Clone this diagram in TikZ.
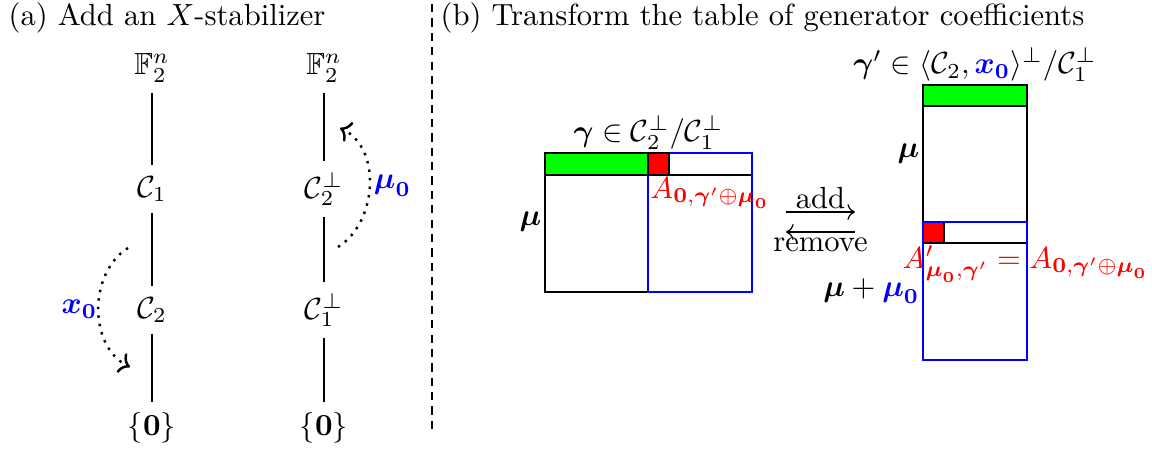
\documentclass[tikz,border=0pt]{standalone}
\usepackage{amsmath,amssymb}
\usetikzlibrary{arrows.meta,positioning}
\definecolor{rowgreen}{HTML}{00FF00}
\definecolor{hitred}{HTML}{FF0000}
\definecolor{shiftblue}{HTML}{0000FF}
\newcommand{\xo}{\boldsymbol{x}_{\mathbf{0}}}
\newcommand{\muo}{\boldsymbol{\mu}_{\mathbf{0}}}
\newcommand{\gam}{\boldsymbol{\gamma}}

\begin{document}
\begin{tikzpicture}[x=0.327pt, y=-0.327pt,
  move/.style={->, dotted, thick},
  tab/.style={draw=black, line width=0.4pt},
  sel/.style={draw=shiftblue, line width=0.9pt},
  side/.style={inner sep=1pt}]
  \useasboundingbox (0,0) rectangle (1152,450);

  % titles and separator
  \node[anchor=base west, inner sep=0pt] (ta) at (8,25) {(a) Add an $X$-stabilizer};
  \node[anchor=base west, inner sep=0pt] (tb) at (440,25) {(b) Transform the table of generator coefficients};
  \coordinate (sepa) at (432,4);
  \coordinate (sepb) at (432,432);
  \draw[dash pattern=on 2.7pt off 2pt] (sepa) -- (sepb);

  % (a) the two chains
  \node (fa) at (152,68) {$\mathbb{F}_2^n$};
  \node (ca1) at (152,189) {$\mathcal{C}_1$};
  \node (ca2) at (152,310) {$\mathcal{C}_2$};
  \node (za) at (152,428) {$\{\mathbf{0}\}$};
  \draw (fa) -- (ca1) -- (ca2) -- (za);

  \node (fb) at (324,68) {$\mathbb{F}_2^n$};
  \node (cb2) at (324,189) {$\mathcal{C}_2^\perp$};
  \node (cb1) at (324,310) {$\mathcal{C}_1^\perp$};
  \node (zb) at (324,428) {$\{\mathbf{0}\}$};
  \draw (fb) -- (cb2) -- (cb1) -- (zb);

  \coordinate (xs) at (128,248);
  \coordinate (xe) at (130,367);
  \draw[move] (xs) to[out=212, in=154] node[midway, left, inner sep=0pt, text=shiftblue] (xl) {$\xo$} (xe);
  \coordinate (ms) at (338,247);
  \coordinate (me) at (340,128);
  \draw[move] (ms) to[out=32, in=-25] node[midway, right, inner sep=1pt, text=shiftblue] (ml) {$\muo$} (me);

  % (b) left table
  \draw[tab] (545,153) rectangle (752,292);
  \draw[tab] (545,175) -- (752,175);
  \draw[sel] (648,153) rectangle (752,292);
  \draw[tab, fill=rowgreen] (545,153) rectangle (648,175);
  \draw[tab, fill=hitred] (648,153) rectangle (669,175);
  \node[above, side] (gl) at (648.5,153) {$\gam\in\mathcal{C}_2^\perp/\mathcal{C}_1^\perp$};
  \node[left, side] (mul) at (545,222) {$\boldsymbol{\mu}$};
  \node[anchor=north west, inner sep=0.6pt, text=hitred] (al) at (648,175) {$A_{\mathbf{0},\gam'\oplus\muo}$};

  % add / remove
  \coordinate (pa) at (786,212);
  \coordinate (pb) at (855,212);
  \draw[->] (pa) -- node[above, inner sep=0.7pt] (addl) {add} (pb);
  \coordinate (qa) at (855,232);
  \coordinate (qb) at (786,232);
  \draw[->] (qa) -- node[below, inner sep=1.8pt] (reml) {remove} (qb);

  % (b) right table
  \draw[tab, fill=rowgreen] (923,85) rectangle (1027,106);
  \draw[tab] (923,85) rectangle (1027,222);
  \draw[tab, fill=hitred] (923,222) rectangle (944,243);
  \draw[tab] (923,243) -- (1027,243);
  \draw[sel] (923,222) rectangle (1027,360);
  \node[above, side] (gr) at (975,85) {$\gam'\in\langle\mathcal{C}_2,{\color{shiftblue}\xo}\rangle^\perp/\mathcal{C}_1^\perp$};
  \node[left, side] (mur) at (923,153.5) {$\boldsymbol{\mu}$};
  \node[left, side] (mumr) at (923,291) {$\boldsymbol{\mu}+{\color{shiftblue}\muo}$};
  \node[anchor=north, inner sep=0.5pt, text=hitred] (ar) at (1025.5,243) {$A'_{\muo,\gam'}=A_{\mathbf{0},\gam'\oplus\muo}$};
\end{tikzpicture}
\end{document}
